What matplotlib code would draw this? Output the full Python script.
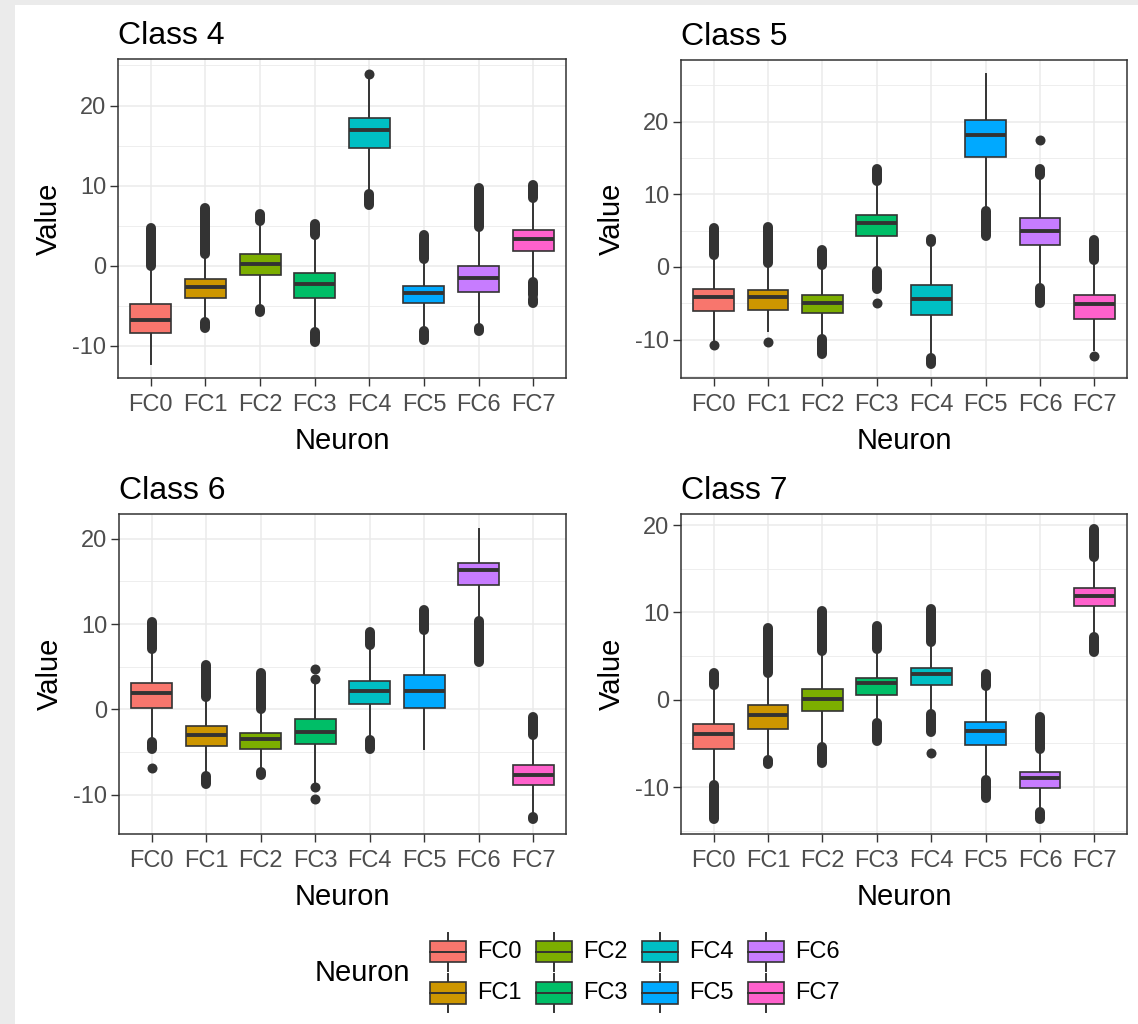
import numpy as np
import matplotlib.pyplot as plt
from matplotlib.patches import Rectangle
from matplotlib.ticker import MultipleLocator

plt.rcParams['font.family'] = ['Liberation Sans', 'DejaVu Sans']
plt.rcParams['axes.unicode_minus'] = False

W, H = 1138, 1024

neurons = ['FC0', 'FC1', 'FC2', 'FC3', 'FC4', 'FC5', 'FC6', 'FC7']
colors = ['#F8766D', '#CD9600', '#7CAE00', '#00BE67',
          '#00BFC4', '#00A9FF', '#C77CFF', '#FF61CC']

# box stats per class: q1, median, q3, whisker low / high
# outliers: single values or (low, high) runs of overlapping points
c4_q1 = [-8.4, -4.0, -1.2, -4.0, 14.65, -4.6, -3.3, 1.9]
c4_med = [-6.8, -2.6, 0.2, -2.3, 16.95, -3.4, -1.5, 3.4]
c4_q3 = [-4.8, -1.6, 1.5, -0.9, 18.4, -2.5, 0.0, 4.5]
c4_lo = [-12.2, -6.6, -4.9, -7.6, 9.5, -7.6, -7.2, -1.5]
c4_hi = [-0.5, 1.1, 5.1, 3.2, 23.3, 0.3, 4.3, 7.8]
c4_out = [[(0.0, 4.7)], [(1.5, 7.2), (-7.8, -7.0)], [(5.6, 6.4), (-5.8, -5.4)],
          [(3.8, 5.2), (-9.5, -8.3)], [24.0, (7.6, 8.9)], [(0.9, 3.8), (-9.3, -8.2)],
          [(4.9, 9.7), (-8.1, -7.8)], [(8.4, 10.1), (-3.7, -2.0), (-4.7, -4.2)]]

c5_q1 = [-6.1, -5.9, -6.4, 4.3, -6.6, 15.2, 3.05, -7.1]
c5_med = [-4.2, -4.2, -4.9, 6.1, -4.4, 18.2, 5.0, -5.1]
c5_q3 = [-3.0, -3.2, -3.8, 7.1, -2.5, 20.2, 6.8, -3.8]
c5_lo = [-10.0, -8.8, -9.5, 0.1, -12.0, 8.3, -2.2, -11.5]
c5_hi = [1.0, -0.1, -0.4, 11.5, 3.0, 26.5, 12.1, 0.3]
c5_out = [[(1.7, 5.3), -10.8], [(0.5, 5.5), -10.4], [(0.2, 2.4), (-12.0, -9.9)],
          [(11.9, 13.5), (-3.1, -0.5), -4.9], [(3.5, 3.9), (-13.3, -12.5)], [(4.2, 7.7)],
          [(12.6, 13.5), 17.45, (-5.0, -2.9)], [(1.0, 3.7), -12.2]]

c6_q1 = [0.2, -4.3, -4.6, -4.1, 0.66, 0.2, 14.6, -8.9]
c6_med = [1.9, -3.05, -3.5, -2.6, 2.1, 2.1, 16.3, -7.7]
c6_q3 = [3.1, -1.9, -2.8, -1.1, 3.3, 4.0, 17.2, -6.5]
c6_lo = [-3.3, -7.3, -6.8, -8.5, -3.2, -4.6, 10.8, -12.2]
c6_hi = [6.7, 1.0, -0.5, 3.1, 7.1, 8.9, 21.2, -3.55]
c6_out = [[(7.1, 10.2), (-4.6, -3.8), -6.9], [(1.4, 5.2), (-8.7, -7.85)],
          [(0.0, 4.3), (-7.7, -7.3)], [3.6, 4.7, -9.1, -10.5], [(7.5, 9.1), (-4.6, -3.6)],
          [(9.3, 11.6)], [(5.5, 10.4)], [(-3.0, -0.9), (-12.9, -12.6)]]

c7_q1 = [-5.64, -3.3, -1.34, 0.6, 1.65, -5.2, -10.05, 10.7]
c7_med = [-3.9, -1.8, 0.1, 1.9, 2.9, -3.6, -8.9, 11.9]
c7_q3 = [-2.76, -0.65, 1.27, 2.5, 3.65, -2.5, -8.3, 12.8]
c7_lo = [-9.3, -6.4, -5.0, -2.2, -1.15, -8.7, -12.4, 7.7]
c7_hi = [1.15, 2.6, 5.1, 5.3, 6.1, 1.1, -6.2, 15.85]
c7_out = [[(1.65, 3.1), (-13.6, -9.8)], [(3.1, 8.25), (-7.4, -6.9)],
          [(5.6, 10.2), (-7.2, -5.45)], [(5.8, 8.5), (-4.7, -2.65)],
          [(6.6, 10.4), (-3.7, -1.6), -6.1], [(1.6, 2.9), (-11.2, -9.2)],
          [(-5.6, -2.0), (-13.7, -12.9)], [(16.35, 19.6), (5.5, 7.2)]]

DARK = '#333333'
GRID = '#EBEBEB'

fig = plt.figure(figsize=(W / 100, H / 100), dpi=100)
fig.patch.set_facecolor('#EBEBEB')
fig.add_artist(Rectangle((15 / W, 0), 1 - 15 / W, 1 - 5 / H, transform=fig.transFigure,
                         facecolor='white', edgecolor='none', zorder=0))


def px_axes(left, top, right, bottom):
    return fig.add_axes([left / W, 1 - bottom / H, (right - left) / W, (bottom - top) / H])


def draw_panel(ax, title, q1, med, q3, lo, hi, out):
    pos = np.arange(1, len(neurons) + 1)
    stats = [dict(q1=a, med=b, q3=c, whislo=d, whishi=e, fliers=[])
             for a, b, c, d, e in zip(q1, med, q3, lo, hi)]
    bp = ax.bxp(stats, positions=pos, widths=0.75, patch_artist=True,
                showfliers=False, showcaps=False,
                boxprops=dict(edgecolor=DARK, linewidth=1.2),
                whiskerprops=dict(color=DARK, linewidth=1.4),
                medianprops=dict(color=DARK, linewidth=2.8))
    for patch, c in zip(bp['boxes'], colors):
        patch.set_facecolor(c)
        patch.set_zorder(3)
    for m in bp['medians']:
        m.set_zorder(4)

    # outliers
    vals = list(lo) + list(hi)
    for x, group in zip(pos, out):
        for o in group:
            if isinstance(o, tuple):
                ax.plot([x, x], [o[0], o[1]], color=DARK, lw=7.2,
                        solid_capstyle='round', zorder=5)
                vals += list(o)
            else:
                ax.plot(x, o, 'o', ms=7.2, color=DARK, mec='none', zorder=5)
                vals.append(o)

    vmin, vmax = min(vals), max(vals)
    pad = (vmax - vmin) * 0.05
    ax.set_ylim(vmin - pad, vmax + pad)
    ax.set_xlim(0.4, len(neurons) + 0.6)

    ax.set_xticks(pos)
    ax.set_xticklabels(neurons)
    ax.yaxis.set_major_locator(MultipleLocator(10))
    ax.yaxis.set_minor_locator(MultipleLocator(5))
    ax.set_axisbelow(True)
    ax.grid(which='major', color=GRID, lw=1.1)
    ax.grid(which='minor', axis='y', color=GRID, lw=0.6)
    ax.tick_params(which='major', length=5.5, width=1.0, color=DARK,
                   labelsize=17, labelcolor='#4D4D4D', pad=3)
    ax.tick_params(axis='x', pad=6)
    ax.tick_params(which='minor', length=0)
    for s in ax.spines.values():
        s.set_color(DARK)
        s.set_linewidth(1.1)
    ax.set_xlabel('Neuron', fontsize=21, labelpad=8)
    ax.set_ylabel('Value', fontsize=21, labelpad=7)
    ax.set_title(title, loc='left', fontsize=23, pad=11)


ax4 = px_axes(118, 59, 566, 378)
draw_panel(ax4, 'Class 4', c4_q1, c4_med, c4_q3, c4_lo, c4_hi, c4_out)
ax5 = px_axes(681, 60, 1127, 378)
draw_panel(ax5, 'Class 5', c5_q1, c5_med, c5_q3, c5_lo, c5_hi, c5_out)
ax6 = px_axes(119, 514, 566, 834)
draw_panel(ax6, 'Class 6', c6_q1, c6_med, c6_q3, c6_lo, c6_hi, c6_out)
ax7 = px_axes(681, 514, 1127, 834)
draw_panel(ax7, 'Class 7', c7_q1, c7_med, c7_q3, c7_lo, c7_hi, c7_out)

# legend drawn in pixel space
lax = fig.add_axes([0, 0, 1, 1])
lax.set_xlim(0, W)
lax.set_ylim(H, 0)
lax.axis('off')
lax.patch.set_alpha(0)
lax.text(315, 973, 'Neuron', fontsize=21, va='center', ha='left')
for i, (name, c) in enumerate(zip(neurons, colors)):
    kx = 430 + (i // 2) * 106
    ky = 951.5 + (i % 2) * 41.5
    lax.plot([kx + 18, kx + 18], [ky - 19, ky + 19], color=DARK, lw=1.4, zorder=1)
    lax.add_patch(Rectangle((kx, ky - 10.8), 36.5, 21.6, facecolor=c,
                            edgecolor=DARK, lw=1.2, zorder=2))
    lax.plot([kx, kx + 36.5], [ky, ky], color=DARK, lw=1.4, zorder=3)
    lax.text(kx + 47, ky, name, fontsize=17, va='center', ha='left')

fig.savefig('out.png', dpi=100, facecolor=fig.get_facecolor())
